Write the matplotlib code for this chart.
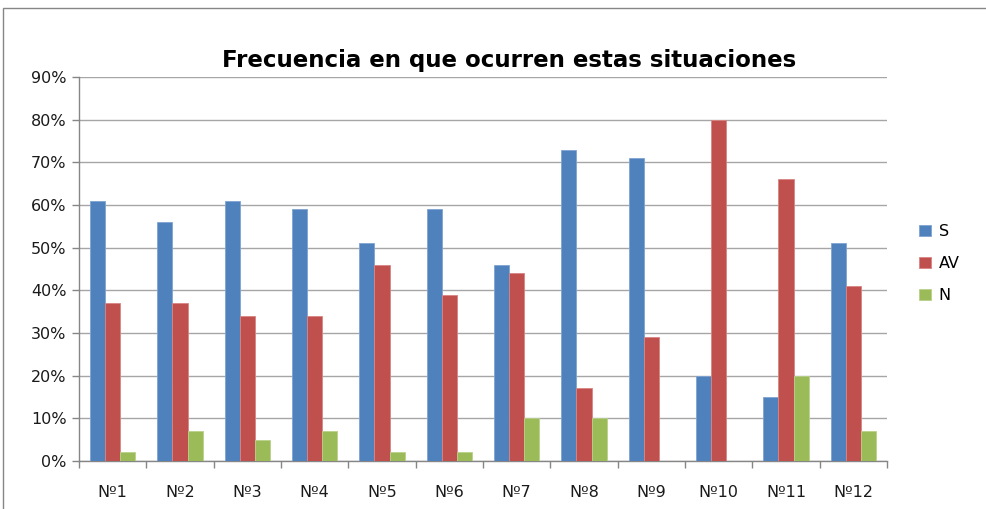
import matplotlib
matplotlib.use("Agg")
import matplotlib.pyplot as plt
import numpy as np
from matplotlib.patches import Rectangle
from matplotlib.ticker import FixedLocator, MultipleLocator, PercentFormatter

categories = ["Nº1", "Nº2", "Nº3", "Nº4", "Nº5", "Nº6", "Nº7", "Nº8", "Nº9", "Nº10", "Nº11", "Nº12"]
S = [61, 56, 61, 59, 51, 59, 46, 73, 71, 20, 15, 51]
AV = [37, 37, 34, 34, 46, 39, 44, 17, 29, 80, 66, 41]
N = [2, 7, 5, 7, 2, 2, 10, 10, 0, 0, 20, 7]
series_names = ["S", "AV", "N"]
colors = ["#4F81BD", "#C0504D", "#9BBB59"]
edges = ["#7FA3D3", "#D98482", "#B9D18A"]
title = "Frecuencia en que ocurren estas situaciones"

plt.rcParams['font.family'] = ['DejaVu Sans']

fig = plt.figure(figsize=(9.87, 5.09), dpi=100)
W, H = 987, 509
ax = fig.add_axes([79 / W, 1 - 461 / H, (887 - 79) / W, (461 - 77) / H])

x = np.arange(len(categories))
bw = 0.224
for i, (vals, c, e, name) in enumerate(zip([S, AV, N], colors, edges, series_names)):
    ax.bar(x + (i - 1) * bw, vals, width=bw, color=c, edgecolor=e, linewidth=0.6, label=name, zorder=3)

ax.set_xlim(-0.5, len(categories) - 0.5)
ax.set_ylim(0, 90)
ax.yaxis.set_major_locator(MultipleLocator(10))
ax.yaxis.set_major_formatter(PercentFormatter(decimals=0))
ax.grid(axis='y', color='#A6A6A6', linewidth=1.0, zorder=0)
ax.set_axisbelow(True)

ax.set_xticks(x)
ax.set_xticklabels(categories)
ax.xaxis.set_minor_locator(FixedLocator(np.arange(-0.5, len(categories), 1.0)))
ax.tick_params(axis='x', which='major', length=0, pad=17, labelsize=11.5, labelcolor='#1a1a1a')
ax.tick_params(axis='x', which='minor', length=5, width=1, color='#868686', direction='out')
ax.tick_params(axis='y', length=5, width=1, color='#868686', labelsize=11.5, labelcolor='#1a1a1a', pad=4)

for s in ['top', 'right']:
    ax.spines[s].set_visible(False)
for s in ['left', 'bottom']:
    ax.spines[s].set_color('#868686')
    ax.spines[s].set_linewidth(1.0)

fig.text(509 / W, 1 - 61 / H, title, ha='center', va='center', fontsize=16.5, fontweight='bold', color='black')

leg = fig.legend(loc='upper left', bbox_to_anchor=(905 / W, 1 - 210 / H), frameon=False,
                 handlelength=0.7, handleheight=0.7, handletextpad=0.5, labelspacing=1.05,
                 fontsize=11.5)

fig.patches.append(Rectangle((3 / W, -0.1), 1.2, 1 - 8 / H + 0.1, transform=fig.transFigure,
                             fill=False, edgecolor='#868686', linewidth=1.0))

fig.savefig("out.png", dpi=100)
